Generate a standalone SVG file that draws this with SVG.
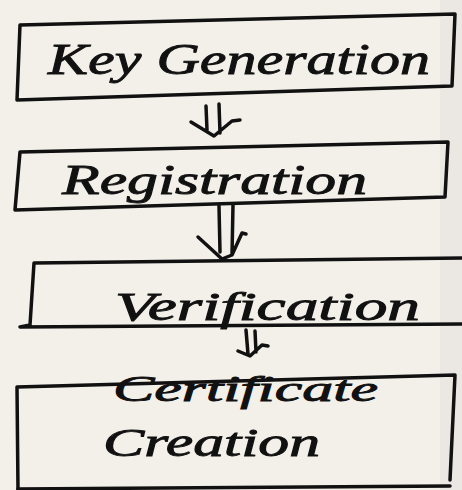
<svg xmlns="http://www.w3.org/2000/svg" width="462" height="490" viewBox="0 0 462 490">
  <style>
    .box { fill: none; stroke: #111; stroke-width: 3.5; stroke-linejoin: round; stroke-linecap: round; }
    .lbl { font-family: "Liberation Serif", "DejaVu Serif", serif; font-style: italic; fill: #111; stroke: #111; stroke-width: 0.9; }
    .arr { fill: none; stroke: #111; stroke-width: 3.5; stroke-linecap: round; stroke-linejoin: round; }
  </style>
  <rect width="462" height="490" fill="#f3f0ea"/>
  <rect x="440" y="0" width="22" height="490" fill="#ebe8e3"/>

  <g id="node-key-generation">
    <polygon class="box" points="20,25 455,14 452,86 17,100"/>
    <text class="lbl" x="48" y="74" font-size="44" textLength="382" lengthAdjust="spacingAndGlyphs">Key Generation</text>
  </g>

  <g id="node-registration">
    <polygon class="box" points="20,152 448,142 445,197 15,210"/>
    <text class="lbl" x="62" y="194" font-size="42" textLength="305" lengthAdjust="spacingAndGlyphs">Registration</text>
  </g>

  <g id="node-verification">
    <polyline class="box" points="462,258 34,263 30,325 20,327 462,324"/>
    <text class="lbl" x="115" y="320" font-size="40" textLength="305" lengthAdjust="spacingAndGlyphs">Verification</text>
  </g>

  <g id="node-certificate-creation">
    <polyline class="box" points="18,490 17,387 455,375 450,480"/>
    <line class="box" x1="18" y1="489" x2="450" y2="486"/>
    <text class="lbl" x="113" y="401" font-size="36" textLength="265" lengthAdjust="spacingAndGlyphs">Certificate</text>
    <text class="lbl" x="103" y="456" font-size="40" textLength="217" lengthAdjust="spacingAndGlyphs">Creation</text>
  </g>

  <g id="connectors">
    <path class="arr" d="M206,106 L207,130 M219,104 L220,133 M191,122 L214,136 L232,121 L240,120"/>
    <path class="arr" d="M219,206 L220,252 M233,205 L232,255 M198,237 L222,259 L232,255 L242,233 L246,234"/>
    <path class="arr" d="M246,330 L248,354 M255,331 L256,352 M238,351 L250,356 L262,345 L268,346"/>
  </g>
</svg>
